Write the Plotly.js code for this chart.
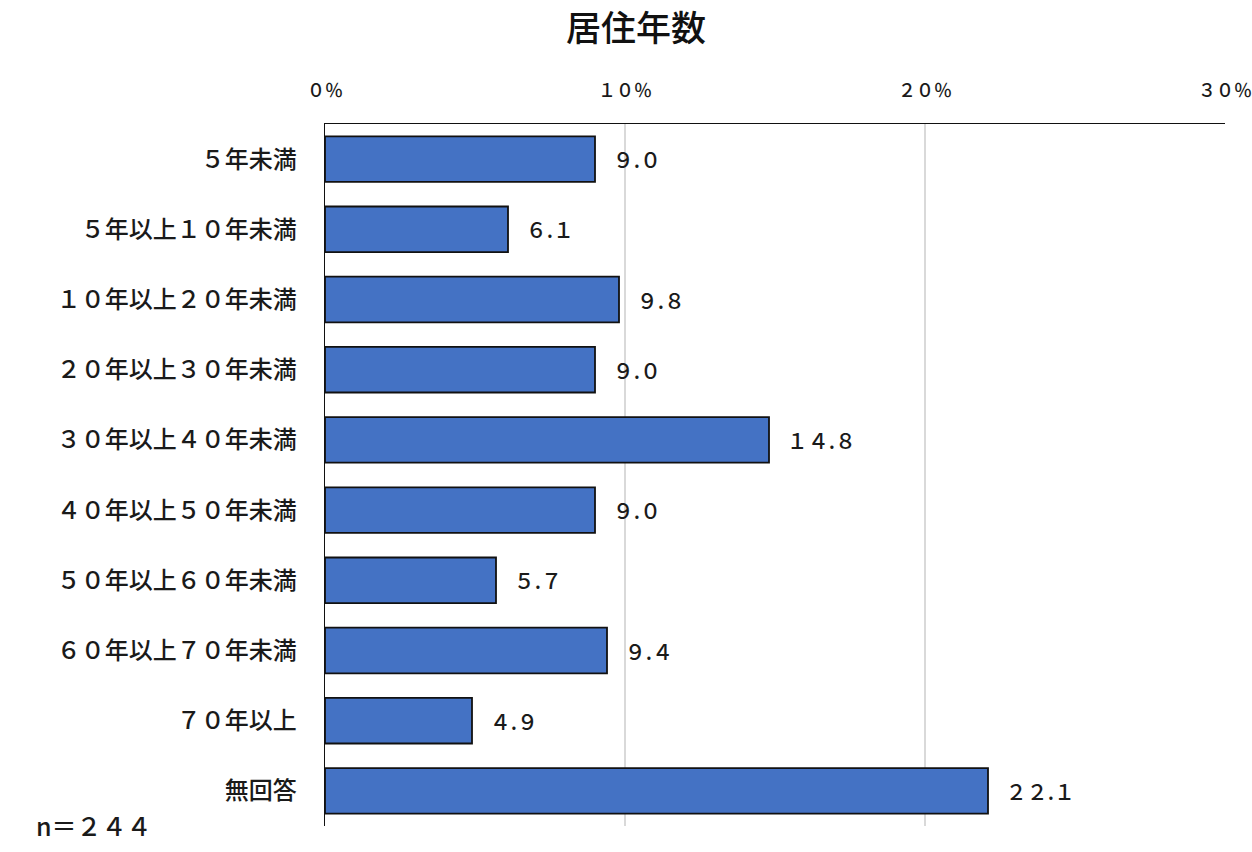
<!DOCTYPE html>
<html>
<head>
<meta charset="utf-8">
<script src="https://cdn.plot.ly/plotly-3.0.1.min.js"></script>
<style>
  html, body { margin: 0; padding: 0; background: #fff; }
  #chart { width: 1252px; height: 852px; }
</style>
</head>
<body>
<div id="chart"></div>
<script>
// 居住年数 (n=244)
const categories = [
  '５年未満',
  '５年以上１０年未満',
  '１０年以上２０年未満',
  '２０年以上３０年未満',
  '３０年以上４０年未満',
  '４０年以上５０年未満',
  '５０年以上６０年未満',
  '６０年以上７０年未満',
  '７０年以上',
  '無回答',
];
const percents = [9.0, 6.1, 9.8, 9.0, 14.8, 9.0, 5.7, 9.4, 4.9, 22.1];
const tickValues = [0, 10, 20, 30];
const tickLabels = ['０％', '１０％', '２０％', '３０％'];

const FONT = '"Noto Sans CJK JP", "Noto Sans", sans-serif';
const INK = '#1a1a1a';

// half-width digits -> full-width, keep the period narrow
const toFull = (s) => s.replace(/[0-9]/g, (d) => String.fromCharCode(d.charCodeAt(0) + 0xFEE0));

const labels = percents.map((v) => '\u2002\u2009' + toFull(v.toFixed(1)));

const trace = {
  type: 'bar',
  orientation: 'h',
  x: percents,
  y: categories,
  text: labels,
  textposition: 'outside',
  cliponaxis: false,
  textfont: { family: FONT, size: 21, color: INK, weight: 500 },
  marker: {
    color: '#4472c4',
    line: { color: '#111', width: 1.8 },
  },
  hoverinfo: 'none',
};

const layout = {
  width: 1252,
  height: 852,
  paper_bgcolor: '#fff',
  plot_bgcolor: '#fff',
  font: { family: FONT, color: INK },
  margin: { l: 325, r: 27, t: 124, b: 26 },
  bargap: 0.35,
  showlegend: false,
  title: {
    text: '居住年数',
    x: 0.508,
    xref: 'container',
    y: 0.966,
    yref: 'container',
    yanchor: 'middle',
    font: { family: FONT, size: 35, color: '#111', weight: 500 },
  },
  xaxis: {
    side: 'top',
    range: [0, 30],
    tickvals: tickValues,
    ticktext: tickLabels,
    ticks: '',
    ticklabelstandoff: 18,
    ticklabeloverflow: 'allow',
    tickfont: { family: FONT, size: 18, color: INK, weight: 500 },
    showgrid: true,
    gridcolor: '#d9d9d9',
    gridwidth: 1.5,
    showline: true,
    linecolor: '#111',
    linewidth: 1.5,
    zeroline: false,
    fixedrange: true,
  },
  yaxis: {
    autorange: 'reversed',
    ticks: '',
    ticklabelstandoff: 22,
    tickfont: { family: FONT, size: 24, color: INK, weight: 500 },
    showline: true,
    linecolor: '#111',
    linewidth: 1.5,
    showgrid: false,
    fixedrange: true,
  },
  annotations: [
    {
      text: 'n＝２４４',
      xref: 'paper',
      yref: 'paper',
      x: -0.323,
      y: 0.002,
      xanchor: 'left',
      yanchor: 'middle',
      showarrow: false,
      font: { family: FONT, size: 25, color: INK, weight: 500 },
    },
  ],
};

Plotly.newPlot('chart', [trace], layout, { displayModeBar: false, staticPlot: true });
</script>
</body>
</html>
